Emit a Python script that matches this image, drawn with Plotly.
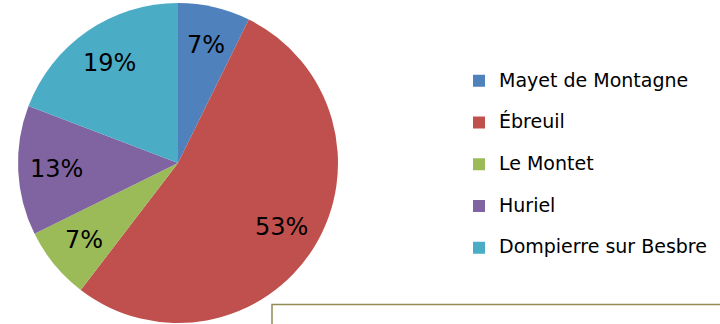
import math
import plotly.graph_objects as go

# Share of each site (percent)
sites = ["Mayet de Montagne", "Ébreuil", "Le Montet", "Huriel", "Dompierre sur Besbre"]
shares = [7.3, 53.1, 7.3, 13.1, 19.2]
colors = ["#4F81BD", "#C0504D", "#9BBB59", "#8064A2", "#4BACC6"]

FONT = "DejaVu Sans"
W, H = 720, 324

# pie placement in paper coordinates (square in pixels)
PIE_X = [18 / W, 338 / W]
PIE_Y = [1 - 323 / H, 1 - 3 / H]
LABEL_R = 0.76  # data labels sit at this fraction of the radius

# legend entries: larger first line, empty second line for roomier rows
legend_labels = [f"<span style='font-size:19px'>{s}</span><br> " for s in sites]

fig = go.Figure(
    go.Pie(
        labels=legend_labels,
        values=shares,
        sort=False,
        direction="clockwise",
        rotation=0,
        marker=dict(colors=colors, line=dict(width=0)),
        textinfo="none",
        hoverinfo="skip",
        domain=dict(x=PIE_X, y=PIE_Y),
    )
)

# percentage labels along each slice's bisector
total = sum(shares)
cx_px = (PIE_X[0] + PIE_X[1]) / 2 * W
cy_px = (1 - (PIE_Y[0] + PIE_Y[1]) / 2) * H
radius = (PIE_X[1] - PIE_X[0]) * W / 2
start = 0.0
for v in shares:
    mid = (start + v / 2) / total * 2 * math.pi  # clockwise from 12 o'clock
    start += v
    px = cx_px + LABEL_R * radius * math.sin(mid)
    py = cy_px - LABEL_R * radius * math.cos(mid)
    fig.add_annotation(
        x=px / W,
        y=1 - py / H,
        xref="paper",
        yref="paper",
        text=f"{round(100 * v / total)}%",
        showarrow=False,
        xanchor="center",
        yanchor="middle",
        font=dict(family=FONT, size=24, color="#000000"),
    )

fig.update_layout(
    width=W,
    height=H,
    margin=dict(l=0, r=0, t=0, b=0),
    paper_bgcolor="white",
    plot_bgcolor="white",
    font=dict(family=FONT, color="#000000"),
    showlegend=True,
    legend=dict(
        x=459 / W,
        y=0.5 - 12 / H,
        xanchor="left",
        yanchor="middle",
        font=dict(family=FONT, size=14.9, color="#000000"),
        valign="top",
        bgcolor="rgba(0,0,0,0)",
        borderwidth=0,
    ),
    shapes=[
        dict(
            type="rect",
            xref="paper",
            yref="paper",
            x0=272 / W,
            x1=1.01,
            y0=-0.2,
            y1=1 - 304.5 / H,
            line=dict(color="#948A54", width=1.5),
            fillcolor="white",
            layer="above",
        )
    ],
)

fig.write_html("out.html")
